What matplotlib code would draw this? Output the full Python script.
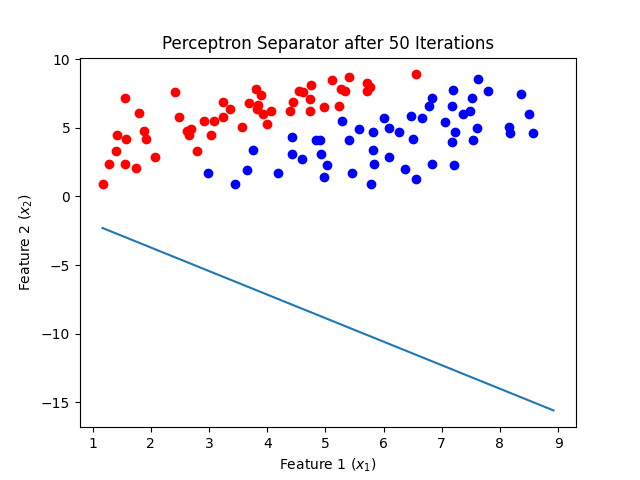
import matplotlib
matplotlib.use("Agg")
import matplotlib.pyplot as plt
import numpy as np

red_x = [1.17, 1.28, 1.40, 1.41, 1.55, 1.55, 1.57, 1.74, 1.79, 1.88, 1.91, 2.07,
         2.41, 2.48, 2.62, 2.66, 2.69, 2.79, 2.91, 3.03, 3.09, 3.24, 3.24, 3.36,
         3.57, 3.69, 3.81, 3.83, 3.84, 3.90, 3.93, 4.00, 4.07, 4.40, 4.45, 4.55,
         4.62, 4.74, 4.74, 4.76, 4.97, 5.12, 5.24, 5.26, 5.33, 5.41, 5.71, 5.72,
         5.76, 6.55]
red_y = [0.88, 2.4, 3.3, 4.5, 2.4, 7.2, 4.2, 2.1, 6.1, 4.8, 4.2, 2.9,
         7.6, 5.8, 4.8, 4.5, 4.9, 3.3, 5.5, 4.5, 5.5, 6.9, 5.8, 6.4,
         5.1, 6.8, 7.8, 6.4, 6.7, 7.4, 6.0, 5.3, 6.2, 6.2, 6.9, 7.7,
         7.6, 6.2, 7.1, 8.1, 6.5, 8.5, 6.6, 7.8, 7.7, 8.7, 8.3, 7.7,
         8.0, 8.9]

blue_x = [7.62, 7.19, 7.79, 8.36, 6.83, 7.52, 6.78, 7.17, 7.48, 7.36, 8.50,
          5.28, 6.47, 6.66, 6.00, 5.57, 6.09, 5.81, 6.26, 7.05, 7.60, 7.22,
          8.16, 8.17, 8.57, 4.90, 5.40, 6.50, 7.17, 7.53, 4.93, 5.81, 5.02,
          5.84, 6.09, 6.36, 6.84, 7.21, 4.97, 5.45, 5.79, 6.55, 4.43, 4.84,
          3.76, 4.43, 4.60, 2.98, 3.66, 4.19, 3.45]
blue_y = [8.55, 7.75, 7.7, 7.5, 7.2, 7.2, 6.6, 6.6, 6.2, 6.0, 6.0,
          5.5, 5.9, 5.7, 5.7, 4.9, 5.0, 4.7, 4.7, 5.4, 5.0, 4.7,
          5.1, 4.6, 4.6, 4.1, 4.1, 4.2, 4.0, 4.1, 3.1, 3.4, 2.3,
          2.4, 2.9, 2.0, 2.4, 2.3, 1.4, 1.7, 0.9, 1.3, 4.3, 4.1,
          3.4, 3.1, 2.7, 1.7, 1.9, 1.7, 0.9]

# perceptron weights [bias, w1, w2] after 50 iterations
weights = [0.29, 1.716, 1.0]

all_x = np.array(red_x + blue_x)
line_x = np.array([all_x.min(), 8.92])
line_y = -(weights[0] + weights[1] * line_x) / weights[2]

plt.figure(figsize=(6.4, 4.8), dpi=100)
plt.scatter(red_x, red_y, color="red")
plt.scatter(blue_x, blue_y, color="blue")
plt.plot(line_x, line_y)
plt.xlabel("Feature 1 ($x_1$)")
plt.ylabel("Feature 2 ($x_2$)")
plt.title("Perceptron Separator after 50 Iterations")
plt.savefig("out.png")
